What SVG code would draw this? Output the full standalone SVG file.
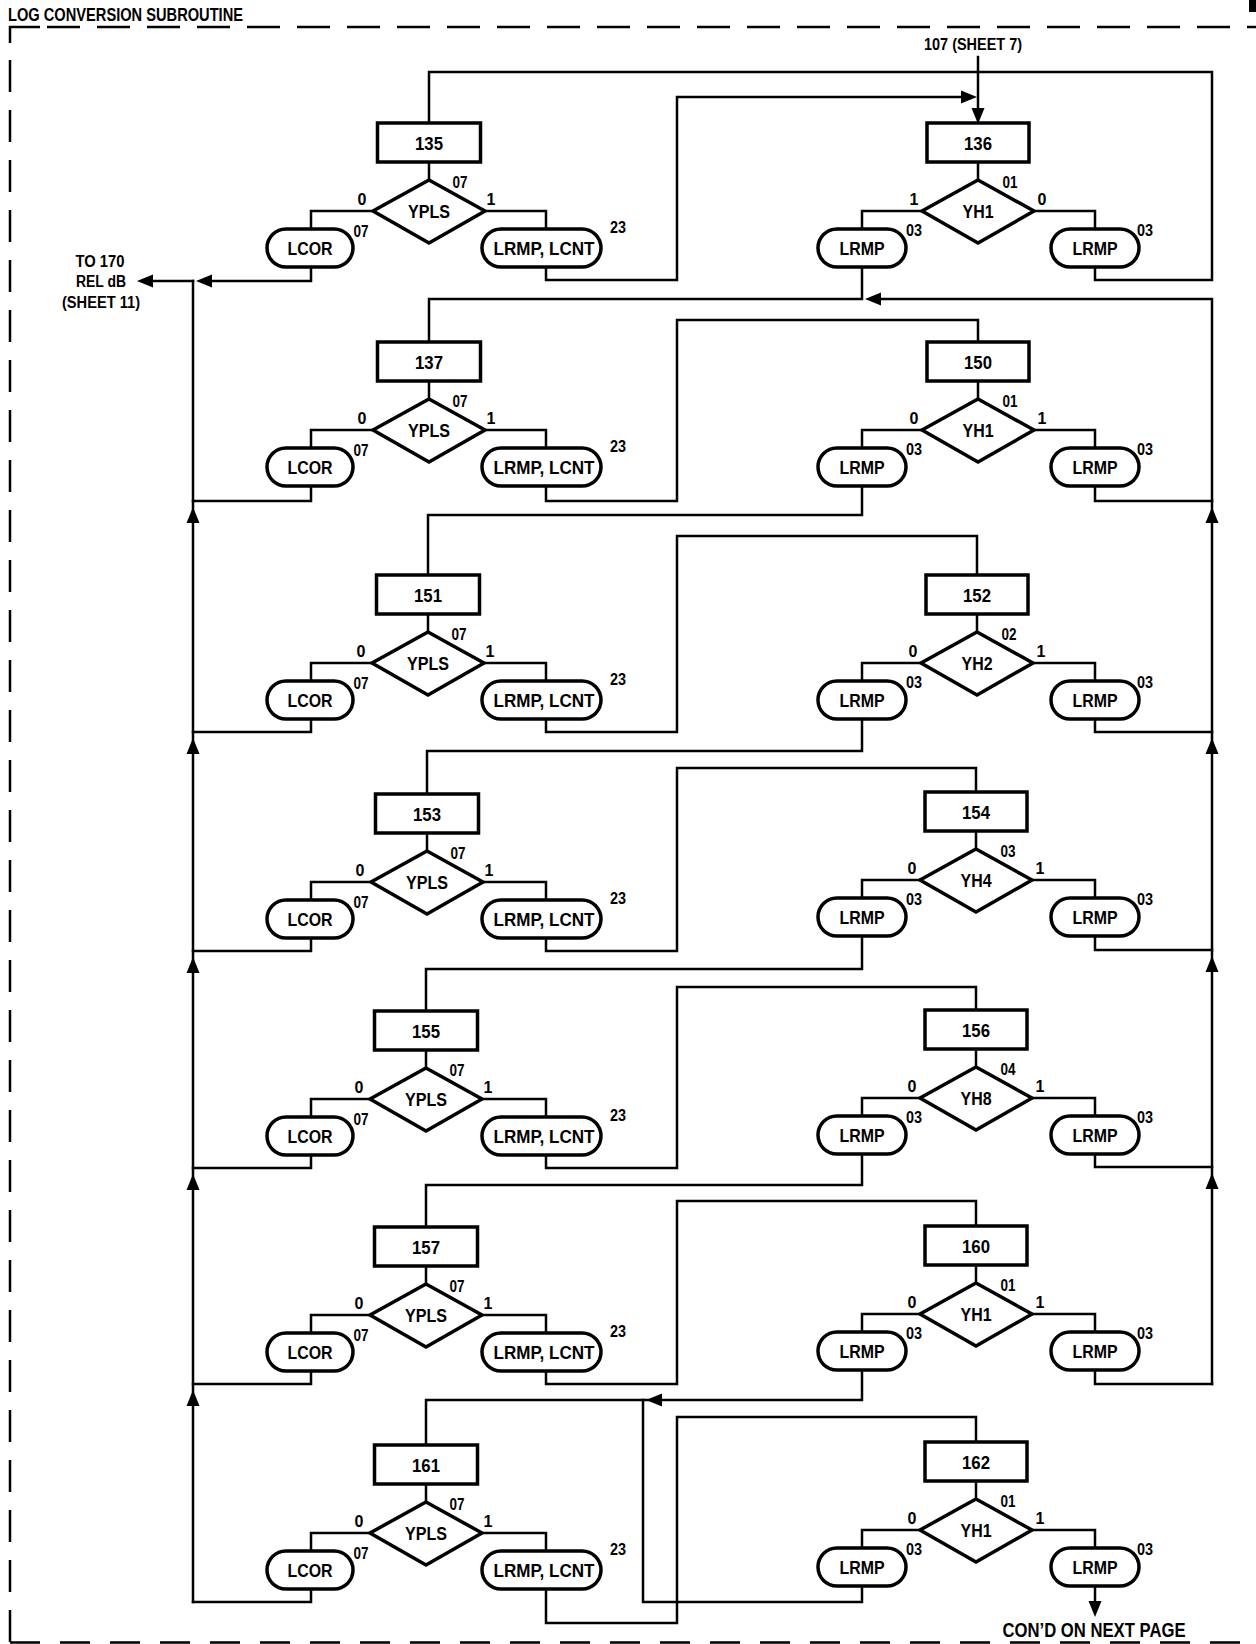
<svg xmlns="http://www.w3.org/2000/svg" xmlns:xlink="http://www.w3.org/1999/xlink" width="1256" height="1644" viewBox="0 0 1256 1644">
<style>
.n{fill:#fff;stroke:#000;stroke-width:3.5;stroke-linejoin:miter}
.c{fill:none;stroke:#000;stroke-width:2.5;stroke-linejoin:miter;stroke-linecap:square}
.b{fill:none;stroke:#000;stroke-width:2.5}
.t{font-family:"Liberation Sans",Arial,sans-serif;font-weight:bold;fill:#000;text-anchor:middle}
.big{font-size:19px}
.sm{font-size:16px}
.ah{fill:#000;stroke:none}
</style>
<defs>
<path id="aL" class="ah" d="M0,0 L16,-6.5 L16,6.5 Z"/>
<path id="aR" class="ah" d="M0,0 L-16,-6.5 L-16,6.5 Z"/>
<path id="aU" class="ah" d="M0,0 L-6.5,16 L6.5,16 Z"/>
<path id="aD" class="ah" d="M0,0 L-6.5,-16 L6.5,-16 Z"/>
</defs>
<rect x="0" y="0" width="1256" height="1644" fill="#fff"/>

<g id="frame">
<text class="t" x="8" y="21" style="text-anchor:start;font-size:18px" textLength="235" lengthAdjust="spacingAndGlyphs">LOG CONVERSION SUBROUTINE</text>
<path class="b" d="M10,43 V27 H40"/>
<path class="b" d="M47,27 H1256" stroke-dasharray="33 17"/>
<path class="b" d="M10,60 V1644" stroke-dasharray="32 18"/>
<path class="b" d="M10,1642.5 H1256" stroke-dasharray="30 20"/>
<rect x="1249" y="0" width="7" height="12" fill="#000"/>
</g>

<g id="labels">
<text class="t" x="973" y="50" style="font-size:17px" textLength="98" lengthAdjust="spacingAndGlyphs">107 (SHEET 7)</text>
<text class="t" x="100" y="267" style="font-size:16px" textLength="49" lengthAdjust="spacingAndGlyphs">TO 170</text>
<text class="t" x="101" y="287" style="font-size:16px" textLength="50" lengthAdjust="spacingAndGlyphs">REL dB</text>
<text class="t" x="101" y="308" style="font-size:16px" textLength="78" lengthAdjust="spacingAndGlyphs">(SHEET 11)</text>
<text class="t" x="1094" y="1637" style="font-size:20px" textLength="183" lengthAdjust="spacingAndGlyphs">CON’D ON NEXT PAGE</text>
</g>

<g id="connectors">
<!-- row 1 -->
<path class="c" d="M429,162V180M373,211H311V229M485,211H546V229"/>
<path class="c" d="M978,162V180M922,211H862V229M1034,211H1095V229"/>
<path class="c" d="M978,57V110"/><use href="#aD" x="978" y="124"/>
<path class="c" d="M311,267V281H205"/><use href="#aL" x="196" y="281"/>
<path class="c" d="M193,281H150"/><use href="#aL" x="137" y="281"/>
<path class="c" d="M193,1602V281"/>
<path class="c" d="M546,267V280H677V97H966"/><use href="#aR" x="977" y="97"/>
<path class="c" d="M1095,267V280H1212V72H429V123"/>
<path class="c" d="M862,267V299H429V342"/>
<path class="c" d="M1212,1384V299H878"/><use href="#aL" x="865" y="299"/>
<!-- row 2 -->
<path class="c" d="M429,381V399M373,430H311V448M485,430H546V448"/>
<path class="c" d="M978,381V399M922,430H862V448M1034,430H1095V448"/>
<path class="c" d="M311,486V501H193"/>
<path class="c" d="M546,486V501H677V320H978V342"/>
<path class="c" d="M862,486V515H428V575"/>
<path class="c" d="M1095,486V501H1212"/>
<!-- row 3 -->
<path class="c" d="M428,614V632M372,663H311V681M484,663H546V681"/>
<path class="c" d="M977,614V632M921,663H862V681M1033,663H1095V681"/>
<path class="c" d="M311,719V732H193"/>
<path class="c" d="M546,719V732H677V536H977V575"/>
<path class="c" d="M862,719V751H427V794"/>
<path class="c" d="M1095,719V732H1212"/>
<!-- row 4 -->
<path class="c" d="M427,833V851M371,882H311V900M483,882H546V900"/>
<path class="c" d="M976,831V849M920,880H862V898M1032,880H1095V898"/>
<path class="c" d="M311,938V951H193"/>
<path class="c" d="M546,938V951H677V768H976V792"/>
<path class="c" d="M862,936V969H426V1011"/>
<path class="c" d="M1095,936V950H1212"/>
<!-- row 5 -->
<path class="c" d="M426,1050V1068M370,1099H311V1117M482,1099H546V1117"/>
<path class="c" d="M976,1049V1067M920,1098H862V1116M1032,1098H1095V1116"/>
<path class="c" d="M311,1155V1168H193"/>
<path class="c" d="M546,1155V1168H677V987H976V1010"/>
<path class="c" d="M862,1154V1185H426V1227"/>
<path class="c" d="M1095,1154V1167H1212"/>
<!-- row 6 -->
<path class="c" d="M426,1266V1284M370,1315H311V1333M482,1315H546V1333"/>
<path class="c" d="M976,1265V1283M920,1314H862V1332M1032,1314H1095V1332"/>
<path class="c" d="M311,1371V1384H193"/>
<path class="c" d="M546,1371V1384H677V1201H976V1226"/>
<path class="c" d="M862,1370V1400H426V1445"/><use href="#aL" x="646" y="1400"/>
<path class="c" d="M1095,1370V1384H1212"/>
<!-- row 7 -->
<path class="c" d="M426,1484V1502M370,1533H311V1551M482,1533H546V1551"/>
<path class="c" d="M976,1481V1499M920,1530H862V1548M1032,1530H1095V1548"/>
<path class="c" d="M311,1589V1602H193"/>
<path class="c" d="M546,1589V1623H677V1417H976V1442"/>
<path class="c" d="M862,1586V1602H643V1400"/>
<path class="c" d="M1095,1586V1604"/><use href="#aD" x="1095" y="1617"/>
<!-- up arrows on return lines -->
<use href="#aU" x="193" y="507"/>
<use href="#aU" x="193" y="738"/>
<use href="#aU" x="193" y="957"/>
<use href="#aU" x="193" y="1174"/>
<use href="#aU" x="193" y="1390"/>
<use href="#aU" x="1212" y="507"/>
<use href="#aU" x="1212" y="738"/>
<use href="#aU" x="1212" y="956"/>
<use href="#aU" x="1212" y="1173"/>
</g>

<!-- ROW 1 -->
<g id="b135" transform="translate(429,123)"><rect class="n" x="-51.5" y="0" width="103" height="39"/><text class="t big" y="27" textLength="28" lengthAdjust="spacingAndGlyphs">135</text></g>
<g id="d135" transform="translate(429,123)"><polygon class="n" points="0,57 56,88 0,120 -56,88"/><text class="t big" y="95" textLength="42" lengthAdjust="spacingAndGlyphs">YPLS</text><text class="t sm" x="31" y="65" textLength="15" lengthAdjust="spacingAndGlyphs">07</text><text class="t sm" x="-67" y="82">0</text><text class="t sm" x="62" y="82">1</text></g>
<g id="o135a" transform="translate(0,123)"><rect class="n" x="267" y="106" width="86" height="38" rx="19"/><text class="t big" x="310" y="132" textLength="45" lengthAdjust="spacingAndGlyphs">LCOR</text><text class="t sm" x="361" y="114" textLength="15" lengthAdjust="spacingAndGlyphs">07</text></g>
<g id="o135b" transform="translate(0,123)"><rect class="n" x="482" y="106" width="119" height="38" rx="19"/><text class="t big" x="544" y="132" textLength="101" lengthAdjust="spacingAndGlyphs">LRMP, LCNT</text><text class="t sm" x="618" y="110" textLength="16" lengthAdjust="spacingAndGlyphs">23</text></g>
<g id="b136" transform="translate(978,123)"><rect class="n" x="-51" y="0" width="102" height="39"/><text class="t big" y="27" textLength="28" lengthAdjust="spacingAndGlyphs">136</text></g>
<g id="d136" transform="translate(978,123)"><polygon class="n" points="0,57 56,88 0,120 -56,88"/><text class="t big" y="95" textLength="31" lengthAdjust="spacingAndGlyphs">YH1</text><text class="t sm" x="32" y="65" textLength="15" lengthAdjust="spacingAndGlyphs">01</text><text class="t sm" x="-64" y="82">1</text><text class="t sm" x="64" y="82">0</text></g>
<g id="o136a" transform="translate(0,123)"><rect class="n" x="818" y="106" width="88" height="38" rx="19"/><text class="t big" x="862" y="132" textLength="45" lengthAdjust="spacingAndGlyphs">LRMP</text><text class="t sm" x="914" y="113" textLength="16" lengthAdjust="spacingAndGlyphs">03</text></g>
<g id="o136b" transform="translate(0,123)"><rect class="n" x="1051" y="106" width="88" height="38" rx="19"/><text class="t big" x="1095" y="132" textLength="45" lengthAdjust="spacingAndGlyphs">LRMP</text><text class="t sm" x="1145" y="113" textLength="16" lengthAdjust="spacingAndGlyphs">03</text></g>

<!-- ROW 2 -->
<g id="b137" transform="translate(429,342)"><rect class="n" x="-51.5" y="0" width="103" height="39"/><text class="t big" y="27" textLength="28" lengthAdjust="spacingAndGlyphs">137</text></g>
<g id="d137" transform="translate(429,342)"><polygon class="n" points="0,57 56,88 0,120 -56,88"/><text class="t big" y="95" textLength="42" lengthAdjust="spacingAndGlyphs">YPLS</text><text class="t sm" x="31" y="65" textLength="15" lengthAdjust="spacingAndGlyphs">07</text><text class="t sm" x="-67" y="82">0</text><text class="t sm" x="62" y="82">1</text></g>
<g id="o137a" transform="translate(0,342)"><rect class="n" x="267" y="106" width="86" height="38" rx="19"/><text class="t big" x="310" y="132" textLength="45" lengthAdjust="spacingAndGlyphs">LCOR</text><text class="t sm" x="361" y="114" textLength="15" lengthAdjust="spacingAndGlyphs">07</text></g>
<g id="o137b" transform="translate(0,342)"><rect class="n" x="482" y="106" width="119" height="38" rx="19"/><text class="t big" x="544" y="132" textLength="101" lengthAdjust="spacingAndGlyphs">LRMP, LCNT</text><text class="t sm" x="618" y="110" textLength="16" lengthAdjust="spacingAndGlyphs">23</text></g>
<g id="b150" transform="translate(978,342)"><rect class="n" x="-51" y="0" width="102" height="39"/><text class="t big" y="27" textLength="28" lengthAdjust="spacingAndGlyphs">150</text></g>
<g id="d150" transform="translate(978,342)"><polygon class="n" points="0,57 56,88 0,120 -56,88"/><text class="t big" y="95" textLength="31" lengthAdjust="spacingAndGlyphs">YH1</text><text class="t sm" x="32" y="65" textLength="15" lengthAdjust="spacingAndGlyphs">01</text><text class="t sm" x="-64" y="82">0</text><text class="t sm" x="64" y="82">1</text></g>
<g id="o150a" transform="translate(0,342)"><rect class="n" x="818" y="106" width="88" height="38" rx="19"/><text class="t big" x="862" y="132" textLength="45" lengthAdjust="spacingAndGlyphs">LRMP</text><text class="t sm" x="914" y="113" textLength="16" lengthAdjust="spacingAndGlyphs">03</text></g>
<g id="o150b" transform="translate(0,342)"><rect class="n" x="1051" y="106" width="88" height="38" rx="19"/><text class="t big" x="1095" y="132" textLength="45" lengthAdjust="spacingAndGlyphs">LRMP</text><text class="t sm" x="1145" y="113" textLength="16" lengthAdjust="spacingAndGlyphs">03</text></g>

<!-- ROW 3 -->
<g id="b151" transform="translate(428,575)"><rect class="n" x="-51.5" y="0" width="103" height="39"/><text class="t big" y="27" textLength="28" lengthAdjust="spacingAndGlyphs">151</text></g>
<g id="d151" transform="translate(428,575)"><polygon class="n" points="0,57 56,88 0,120 -56,88"/><text class="t big" y="95" textLength="42" lengthAdjust="spacingAndGlyphs">YPLS</text><text class="t sm" x="31" y="65" textLength="15" lengthAdjust="spacingAndGlyphs">07</text><text class="t sm" x="-67" y="82">0</text><text class="t sm" x="62" y="82">1</text></g>
<g id="o151a" transform="translate(0,575)"><rect class="n" x="267" y="106" width="86" height="38" rx="19"/><text class="t big" x="310" y="132" textLength="45" lengthAdjust="spacingAndGlyphs">LCOR</text><text class="t sm" x="361" y="114" textLength="15" lengthAdjust="spacingAndGlyphs">07</text></g>
<g id="o151b" transform="translate(0,575)"><rect class="n" x="482" y="106" width="119" height="38" rx="19"/><text class="t big" x="544" y="132" textLength="101" lengthAdjust="spacingAndGlyphs">LRMP, LCNT</text><text class="t sm" x="618" y="110" textLength="16" lengthAdjust="spacingAndGlyphs">23</text></g>
<g id="b152" transform="translate(977,575)"><rect class="n" x="-51" y="0" width="102" height="39"/><text class="t big" y="27" textLength="28" lengthAdjust="spacingAndGlyphs">152</text></g>
<g id="d152" transform="translate(977,575)"><polygon class="n" points="0,57 56,88 0,120 -56,88"/><text class="t big" y="95" textLength="31" lengthAdjust="spacingAndGlyphs">YH2</text><text class="t sm" x="32" y="65" textLength="15" lengthAdjust="spacingAndGlyphs">02</text><text class="t sm" x="-64" y="82">0</text><text class="t sm" x="64" y="82">1</text></g>
<g id="o152a" transform="translate(0,575)"><rect class="n" x="818" y="106" width="88" height="38" rx="19"/><text class="t big" x="862" y="132" textLength="45" lengthAdjust="spacingAndGlyphs">LRMP</text><text class="t sm" x="914" y="113" textLength="16" lengthAdjust="spacingAndGlyphs">03</text></g>
<g id="o152b" transform="translate(0,575)"><rect class="n" x="1051" y="106" width="88" height="38" rx="19"/><text class="t big" x="1095" y="132" textLength="45" lengthAdjust="spacingAndGlyphs">LRMP</text><text class="t sm" x="1145" y="113" textLength="16" lengthAdjust="spacingAndGlyphs">03</text></g>

<!-- ROW 4 -->
<g id="b153" transform="translate(427,794)"><rect class="n" x="-51.5" y="0" width="103" height="39"/><text class="t big" y="27" textLength="28" lengthAdjust="spacingAndGlyphs">153</text></g>
<g id="d153" transform="translate(427,794)"><polygon class="n" points="0,57 56,88 0,120 -56,88"/><text class="t big" y="95" textLength="42" lengthAdjust="spacingAndGlyphs">YPLS</text><text class="t sm" x="31" y="65" textLength="15" lengthAdjust="spacingAndGlyphs">07</text><text class="t sm" x="-67" y="82">0</text><text class="t sm" x="62" y="82">1</text></g>
<g id="o153a" transform="translate(0,794)"><rect class="n" x="267" y="106" width="86" height="38" rx="19"/><text class="t big" x="310" y="132" textLength="45" lengthAdjust="spacingAndGlyphs">LCOR</text><text class="t sm" x="361" y="114" textLength="15" lengthAdjust="spacingAndGlyphs">07</text></g>
<g id="o153b" transform="translate(0,794)"><rect class="n" x="482" y="106" width="119" height="38" rx="19"/><text class="t big" x="544" y="132" textLength="101" lengthAdjust="spacingAndGlyphs">LRMP, LCNT</text><text class="t sm" x="618" y="110" textLength="16" lengthAdjust="spacingAndGlyphs">23</text></g>
<g id="b154" transform="translate(976,792)"><rect class="n" x="-51" y="0" width="102" height="39"/><text class="t big" y="27" textLength="28" lengthAdjust="spacingAndGlyphs">154</text></g>
<g id="d154" transform="translate(976,792)"><polygon class="n" points="0,57 56,88 0,120 -56,88"/><text class="t big" y="95" textLength="31" lengthAdjust="spacingAndGlyphs">YH4</text><text class="t sm" x="32" y="65" textLength="15" lengthAdjust="spacingAndGlyphs">03</text><text class="t sm" x="-64" y="82">0</text><text class="t sm" x="64" y="82">1</text></g>
<g id="o154a" transform="translate(0,792)"><rect class="n" x="818" y="106" width="88" height="38" rx="19"/><text class="t big" x="862" y="132" textLength="45" lengthAdjust="spacingAndGlyphs">LRMP</text><text class="t sm" x="914" y="113" textLength="16" lengthAdjust="spacingAndGlyphs">03</text></g>
<g id="o154b" transform="translate(0,792)"><rect class="n" x="1051" y="106" width="88" height="38" rx="19"/><text class="t big" x="1095" y="132" textLength="45" lengthAdjust="spacingAndGlyphs">LRMP</text><text class="t sm" x="1145" y="113" textLength="16" lengthAdjust="spacingAndGlyphs">03</text></g>

<!-- ROW 5 -->
<g id="b155" transform="translate(426,1011)"><rect class="n" x="-51.5" y="0" width="103" height="39"/><text class="t big" y="27" textLength="28" lengthAdjust="spacingAndGlyphs">155</text></g>
<g id="d155" transform="translate(426,1011)"><polygon class="n" points="0,57 56,88 0,120 -56,88"/><text class="t big" y="95" textLength="42" lengthAdjust="spacingAndGlyphs">YPLS</text><text class="t sm" x="31" y="65" textLength="15" lengthAdjust="spacingAndGlyphs">07</text><text class="t sm" x="-67" y="82">0</text><text class="t sm" x="62" y="82">1</text></g>
<g id="o155a" transform="translate(0,1011)"><rect class="n" x="267" y="106" width="86" height="38" rx="19"/><text class="t big" x="310" y="132" textLength="45" lengthAdjust="spacingAndGlyphs">LCOR</text><text class="t sm" x="361" y="114" textLength="15" lengthAdjust="spacingAndGlyphs">07</text></g>
<g id="o155b" transform="translate(0,1011)"><rect class="n" x="482" y="106" width="119" height="38" rx="19"/><text class="t big" x="544" y="132" textLength="101" lengthAdjust="spacingAndGlyphs">LRMP, LCNT</text><text class="t sm" x="618" y="110" textLength="16" lengthAdjust="spacingAndGlyphs">23</text></g>
<g id="b156" transform="translate(976,1010)"><rect class="n" x="-51" y="0" width="102" height="39"/><text class="t big" y="27" textLength="28" lengthAdjust="spacingAndGlyphs">156</text></g>
<g id="d156" transform="translate(976,1010)"><polygon class="n" points="0,57 56,88 0,120 -56,88"/><text class="t big" y="95" textLength="31" lengthAdjust="spacingAndGlyphs">YH8</text><text class="t sm" x="32" y="65" textLength="15" lengthAdjust="spacingAndGlyphs">04</text><text class="t sm" x="-64" y="82">0</text><text class="t sm" x="64" y="82">1</text></g>
<g id="o156a" transform="translate(0,1010)"><rect class="n" x="818" y="106" width="88" height="38" rx="19"/><text class="t big" x="862" y="132" textLength="45" lengthAdjust="spacingAndGlyphs">LRMP</text><text class="t sm" x="914" y="113" textLength="16" lengthAdjust="spacingAndGlyphs">03</text></g>
<g id="o156b" transform="translate(0,1010)"><rect class="n" x="1051" y="106" width="88" height="38" rx="19"/><text class="t big" x="1095" y="132" textLength="45" lengthAdjust="spacingAndGlyphs">LRMP</text><text class="t sm" x="1145" y="113" textLength="16" lengthAdjust="spacingAndGlyphs">03</text></g>

<!-- ROW 6 -->
<g id="b157" transform="translate(426,1227)"><rect class="n" x="-51.5" y="0" width="103" height="39"/><text class="t big" y="27" textLength="28" lengthAdjust="spacingAndGlyphs">157</text></g>
<g id="d157" transform="translate(426,1227)"><polygon class="n" points="0,57 56,88 0,120 -56,88"/><text class="t big" y="95" textLength="42" lengthAdjust="spacingAndGlyphs">YPLS</text><text class="t sm" x="31" y="65" textLength="15" lengthAdjust="spacingAndGlyphs">07</text><text class="t sm" x="-67" y="82">0</text><text class="t sm" x="62" y="82">1</text></g>
<g id="o157a" transform="translate(0,1227)"><rect class="n" x="267" y="106" width="86" height="38" rx="19"/><text class="t big" x="310" y="132" textLength="45" lengthAdjust="spacingAndGlyphs">LCOR</text><text class="t sm" x="361" y="114" textLength="15" lengthAdjust="spacingAndGlyphs">07</text></g>
<g id="o157b" transform="translate(0,1227)"><rect class="n" x="482" y="106" width="119" height="38" rx="19"/><text class="t big" x="544" y="132" textLength="101" lengthAdjust="spacingAndGlyphs">LRMP, LCNT</text><text class="t sm" x="618" y="110" textLength="16" lengthAdjust="spacingAndGlyphs">23</text></g>
<g id="b160" transform="translate(976,1226)"><rect class="n" x="-51" y="0" width="102" height="39"/><text class="t big" y="27" textLength="28" lengthAdjust="spacingAndGlyphs">160</text></g>
<g id="d160" transform="translate(976,1226)"><polygon class="n" points="0,57 56,88 0,120 -56,88"/><text class="t big" y="95" textLength="31" lengthAdjust="spacingAndGlyphs">YH1</text><text class="t sm" x="32" y="65" textLength="15" lengthAdjust="spacingAndGlyphs">01</text><text class="t sm" x="-64" y="82">0</text><text class="t sm" x="64" y="82">1</text></g>
<g id="o160a" transform="translate(0,1226)"><rect class="n" x="818" y="106" width="88" height="38" rx="19"/><text class="t big" x="862" y="132" textLength="45" lengthAdjust="spacingAndGlyphs">LRMP</text><text class="t sm" x="914" y="113" textLength="16" lengthAdjust="spacingAndGlyphs">03</text></g>
<g id="o160b" transform="translate(0,1226)"><rect class="n" x="1051" y="106" width="88" height="38" rx="19"/><text class="t big" x="1095" y="132" textLength="45" lengthAdjust="spacingAndGlyphs">LRMP</text><text class="t sm" x="1145" y="113" textLength="16" lengthAdjust="spacingAndGlyphs">03</text></g>

<!-- ROW 7 -->
<g id="b161" transform="translate(426,1445)"><rect class="n" x="-51.5" y="0" width="103" height="39"/><text class="t big" y="27" textLength="28" lengthAdjust="spacingAndGlyphs">161</text></g>
<g id="d161" transform="translate(426,1445)"><polygon class="n" points="0,57 56,88 0,120 -56,88"/><text class="t big" y="95" textLength="42" lengthAdjust="spacingAndGlyphs">YPLS</text><text class="t sm" x="31" y="65" textLength="15" lengthAdjust="spacingAndGlyphs">07</text><text class="t sm" x="-67" y="82">0</text><text class="t sm" x="62" y="82">1</text></g>
<g id="o161a" transform="translate(0,1445)"><rect class="n" x="267" y="106" width="86" height="38" rx="19"/><text class="t big" x="310" y="132" textLength="45" lengthAdjust="spacingAndGlyphs">LCOR</text><text class="t sm" x="361" y="114" textLength="15" lengthAdjust="spacingAndGlyphs">07</text></g>
<g id="o161b" transform="translate(0,1445)"><rect class="n" x="482" y="106" width="119" height="38" rx="19"/><text class="t big" x="544" y="132" textLength="101" lengthAdjust="spacingAndGlyphs">LRMP, LCNT</text><text class="t sm" x="618" y="110" textLength="16" lengthAdjust="spacingAndGlyphs">23</text></g>
<g id="b162" transform="translate(976,1442)"><rect class="n" x="-51" y="0" width="102" height="39"/><text class="t big" y="27" textLength="28" lengthAdjust="spacingAndGlyphs">162</text></g>
<g id="d162" transform="translate(976,1442)"><polygon class="n" points="0,57 56,88 0,120 -56,88"/><text class="t big" y="95" textLength="31" lengthAdjust="spacingAndGlyphs">YH1</text><text class="t sm" x="32" y="65" textLength="15" lengthAdjust="spacingAndGlyphs">01</text><text class="t sm" x="-64" y="82">0</text><text class="t sm" x="64" y="82">1</text></g>
<g id="o162a" transform="translate(0,1442)"><rect class="n" x="818" y="106" width="88" height="38" rx="19"/><text class="t big" x="862" y="132" textLength="45" lengthAdjust="spacingAndGlyphs">LRMP</text><text class="t sm" x="914" y="113" textLength="16" lengthAdjust="spacingAndGlyphs">03</text></g>
<g id="o162b" transform="translate(0,1442)"><rect class="n" x="1051" y="106" width="88" height="38" rx="19"/><text class="t big" x="1095" y="132" textLength="45" lengthAdjust="spacingAndGlyphs">LRMP</text><text class="t sm" x="1145" y="113" textLength="16" lengthAdjust="spacingAndGlyphs">03</text></g>
</svg>
